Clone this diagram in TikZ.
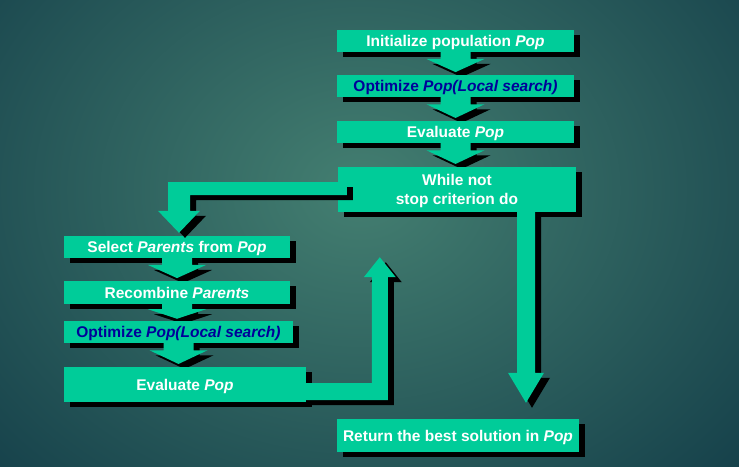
\documentclass[tikz,border=0pt]{standalone}
\usepackage{fontspec}
\setmainfont{Liberation Sans}
\usetikzlibrary{calc}

\definecolor{boxgreen}{HTML}{00CC99}
\definecolor{textblue}{HTML}{000099}
\definecolor{bglight}{HTML}{447F71}
\definecolor{bgdark}{HTML}{15404A}

\pgfdeclarelayer{bg}
\pgfdeclarelayer{shadows}
\pgfdeclarelayer{arrows}
\pgfdeclarelayer{front}
\pgfsetlayers{bg,shadows,arrows,main,front}

\tikzset{
  stepbox/.style={fill=boxgreen, text=white, inner sep=0pt, align=center,
    font=\bfseries\fontsize{15.5}{19}\selectfont,
    text height=11.2pt, text depth=0pt},
  bluetext/.style={text=textblue},
}

% block arrow between two stacked boxes, drawn with its shadow
\newcommand{\flowarrow}[2]{%
  \coordinate (fa1) at (#1.south);
  \coordinate (fa2) at (#1.south |- #2.north);
  \coordinate (fab) at ($(fa1)!0.3!(fa2)$);
  \coordinate (fat) at ($(fa1)!0.88!(fa2)$);
  \foreach \dx/\dy/\col in {6/5/black,0/0/boxgreen}{
    \fill[\col] ($(fa1)+(-15+\dx,-1+\dy)$) -- ($(fab)+(-15+\dx,\dy)$)
      -- ($(fab)+(-29+\dx,\dy)$) -- ($(fat)+(\dx,\dy)$)
      -- ($(fab)+(29+\dx,\dy)$) -- ($(fab)+(15+\dx,\dy)$)
      -- ($(fa1)+(15+\dx,-1+\dy)$) -- cycle;
  }%
}

\begin{document}
\begin{tikzpicture}[x=1pt,y=-1pt]
\useasboundingbox (0,0) rectangle (739,466);

% background
\begin{pgfonlayer}{bg}
  \begin{scope}
    \clip (0,0) rectangle (739,466);
    \shade[inner color=bglight, outer color=bgdark] (-160,-230) rectangle (880,610);
  \end{scope}
\end{pgfonlayer}

% boxes
\node[stepbox, minimum width=237pt, minimum height=22pt] (b1) at (455.5,41)
  {Initialize population \textit{Pop}};
\node[stepbox, bluetext, minimum width=237pt, minimum height=22pt] (b2) at (455.5,86)
  {Optimize \textit{Pop(Local search)}};
\node[stepbox, minimum width=237pt, minimum height=22pt] (b3) at (455.5,132)
  {Evaluate \textit{Pop}};
\node[stepbox, minimum width=238pt, minimum height=45pt, text height=30.2pt] (b4) at (457,189.5)
  {While not\\stop criterion do};
\node[stepbox, minimum width=226pt, minimum height=22pt] (b5) at (177,247)
  {Select \textit{Parents} from \textit{Pop}};
\node[stepbox, minimum width=226pt, minimum height=23pt] (b6) at (177,292.5)
  {Recombine \textit{Parents}};
\node[stepbox, bluetext, minimum width=229pt, minimum height=22pt] (b7) at (178.5,332)
  {Optimize \textit{Pop(Local search)}};
\node[stepbox, minimum width=242pt, minimum height=35pt] (b8) at (185,384.5)
  {Evaluate \textit{Pop}};
\node[stepbox, minimum width=242pt, minimum height=33pt] (b9) at (458,435.5)
  {Return the best solution in \textit{Pop}};

% box shadows
\begin{pgfonlayer}{shadows}
  \foreach \n in {b1,b2,b3,b4,b5,b6,b7,b8,b9}{
    \fill[black] ($(\n.south west)+(6,5)$) rectangle ($(\n.north east)+(6,5)$);
  }
\end{pgfonlayer}

% arrows between stacked boxes
\begin{pgfonlayer}{arrows}
  \flowarrow{b1}{b2}
  \flowarrow{b2}{b3}
  \flowarrow{b3}{b4}
  \flowarrow{b5}{b6}
  \flowarrow{b6}{b7}
  \flowarrow{b7}{b8}
\end{pgfonlayer}

% loop arrows
\coordinate (loop) at ($(b4.south west)+(42,45)$);
\begin{pgfonlayer}{front}
  % loop body entry: While -> Select
  \foreach \dx/\dy/\col in {6/5/black,0/0/boxgreen}{
    \fill[\col] ($(b4.west)+(9+\dx,-7.5+\dy)$)
      -- ($(b5.north|-b4.west)+(-9+\dx,-7.5+\dy)$)
      -- ($(b5.north)+(-9+\dx,-25+\dy)$)
      -- ($(b5.north)+(-19+\dx,-25+\dy)$)
      -- ($(b5.north)+(2+\dx,-3+\dy)$)
      -- ($(b5.north)+(23+\dx,-25+\dy)$)
      -- ($(b5.north)+(13+\dx,-25+\dy)$)
      -- ($(b5.north|-b4.west)+(13+\dx,5.5+\dy)$)
      -- ($(b4.west)+(9+\dx,5.5+\dy)$) -- cycle;
  }
  % back to the loop test: Evaluate -> up
  \foreach \dx/\dy/\col in {6/5/black,0/0/boxgreen}{
    \fill[\col] ($(b8.east)+(-3+\dx,-1.5+\dy)$)
      -- ($(loop|-b8.east)+(-8+\dx,-1.5+\dy)$)
      -- ($(loop)+(-8+\dx,20+\dy)$)
      -- ($(loop)+(-16+\dx,20+\dy)$)
      -- ($(loop)+(\dx,\dy)$)
      -- ($(loop)+(16+\dx,20+\dy)$)
      -- ($(loop)+(8+\dx,20+\dy)$)
      -- ($(loop|-b8.east)+(8+\dx,15.5+\dy)$)
      -- ($(b8.east)+(-3+\dx,15.5+\dy)$) -- cycle;
  }
  % loop exit: While -> Return
  \foreach \dx/\dy/\col in {6/5/black,0/0/boxgreen}{
    \fill[\col] ($(b4.south)+(60+\dx,-0.5+\dy)$)
      -- ($(b4.south|-b9.north)+(60+\dx,-46+\dy)$)
      -- ($(b4.south|-b9.north)+(51+\dx,-46+\dy)$)
      -- ($(b4.south|-b9.north)+(69+\dx,-16+\dy)$)
      -- ($(b4.south|-b9.north)+(87+\dx,-46+\dy)$)
      -- ($(b4.south|-b9.north)+(78+\dx,-46+\dy)$)
      -- ($(b4.south)+(78+\dx,-0.5+\dy)$) -- cycle;
  }
\end{pgfonlayer}
\end{tikzpicture}
\end{document}
